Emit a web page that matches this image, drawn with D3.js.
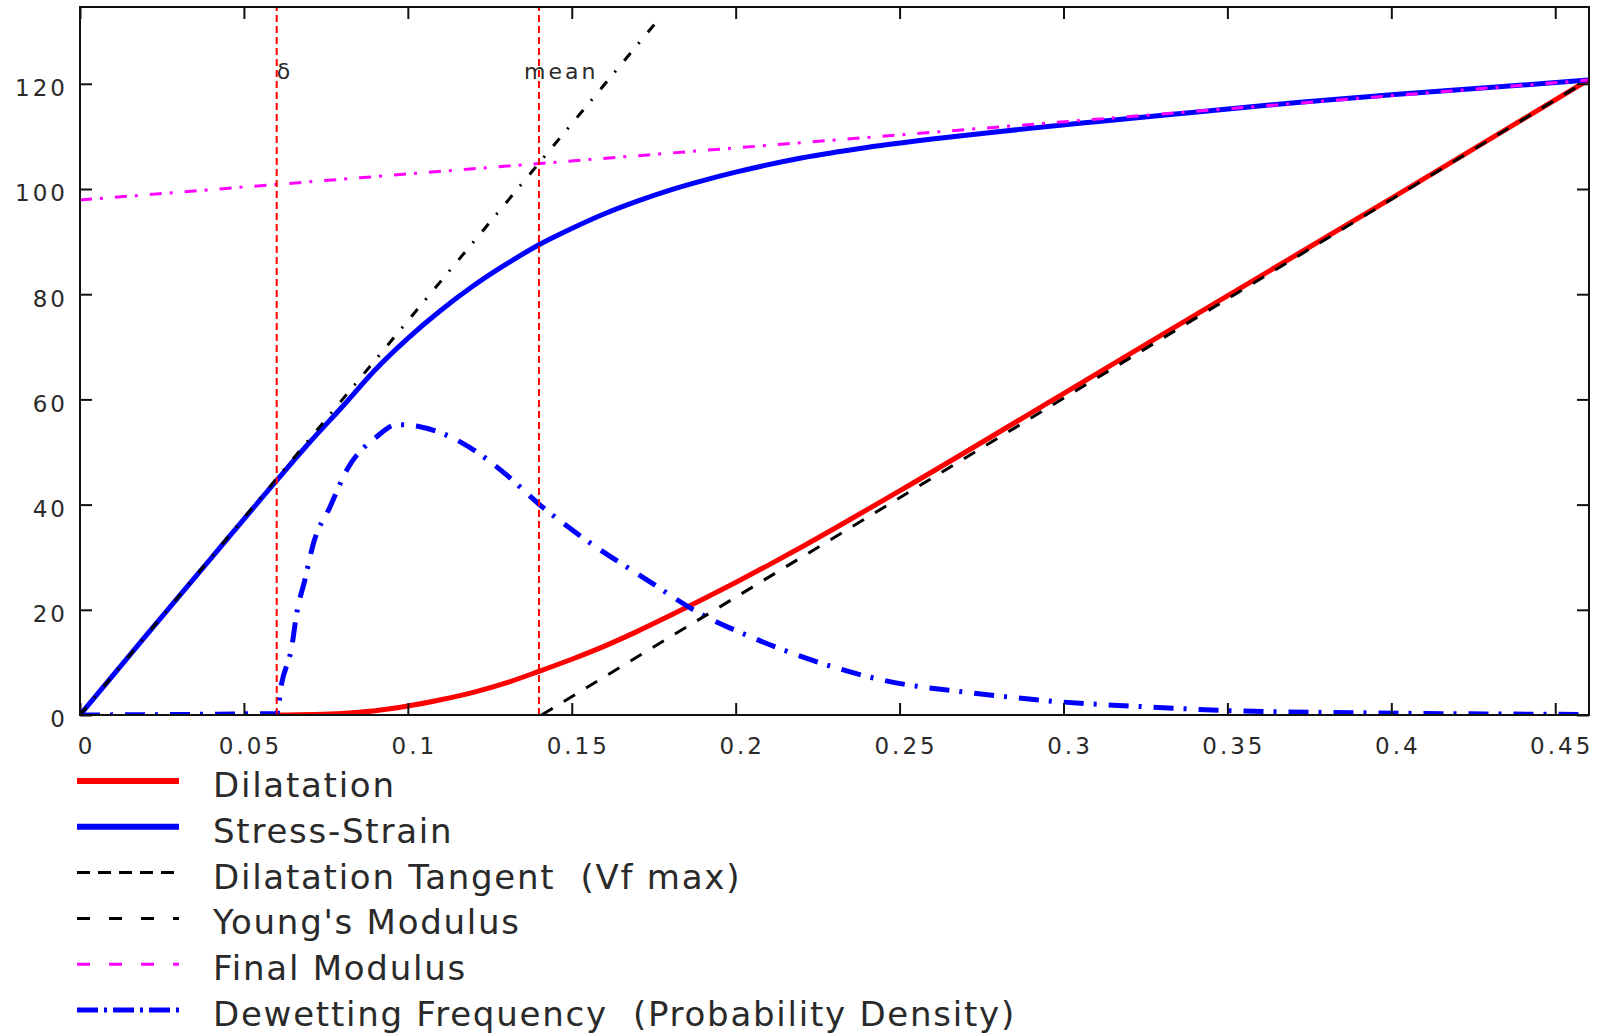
<!DOCTYPE html>
<html>
<head>
<meta charset="utf-8">
<script src="https://cdn.jsdelivr.net/npm/d3@7"></script>
<style>
  body { margin: 0; background: #fff; }
  text { font-family: "DejaVu Sans", sans-serif; fill: #2a2a2a; white-space: pre; }
</style>
</head>
<body>
<div id="graph"></div>
<script>
// stress-strain curve
const ssStrain = [0, 0.02, 0.04, 0.06, 0.07, 0.08, 0.09, 0.1, 0.11, 0.12, 0.13, 0.14, 0.15, 0.16, 0.17, 0.18, 0.19, 0.2, 0.22, 0.24, 0.26, 0.28, 0.31, 0.34, 0.3722, 0.40, 0.46];
const ssStress = [0, 15, 29.8, 44.6, 51.8, 58.6, 65.6, 71.6, 76.9, 81.6, 85.7, 89.4, 92.5, 95.3, 97.7, 99.8, 101.6, 103.2, 105.9, 107.9, 109.5, 110.9, 112.8, 114.6, 116.5, 117.9, 120.7];

// dilatation curve
const dilStrain = [0.06, 0.08, 0.09, 0.1, 0.11, 0.12, 0.13, 0.14, 0.15, 0.16, 0.17, 0.18, 0.19, 0.2, 0.21, 0.22, 0.23, 0.24, 0.25, 0.3, 0.35, 0.4, 0.46];
const dilValue = [0, 0.3, 0.8, 1.7, 2.9, 4.3, 6.1, 8.3, 10.6, 13.1, 15.9, 18.9, 22.0, 25.2, 28.5, 31.9, 35.4, 39.0, 42.6, 61.1, 79.7, 98.2, 120.7];

// dewetting frequency (probability density)
const dewStrain = [0, 0.06, 0.0615, 0.0646, 0.0661, 0.0686, 0.0712, 0.0763, 0.0814, 0.0905, 0.0966, 0.1037, 0.1169, 0.1302, 0.1398, 0.1536, 0.1729, 0.1891, 0.2044, 0.2197, 0.2451, 0.2735, 0.299, 0.3273, 0.3518, 0.3925, 0.46];
const dewValue = [0, 0.3, 6, 13, 19.3, 25.7, 32.6, 39.6, 46.6, 52.9, 55.2, 54.8, 51.6, 45.6, 40.2, 33.6, 25.7, 19.3, 14.9, 11.2, 6.6, 4.1, 2.5, 1.5, 0.8, 0.4, 0.1];

// straight reference lines (two end points each)
const tangentStrain = [0.1408, 0.46];
const tangentValue = [0, 120.7];
const youngStrain = [0, 0.1755];
const youngValue = [0, 131.5];
const finalStrain = [0, 0.46];
const finalValue = [97.9, 120.7];

// vertical markers
const markerNames = ["δ", "mean"];
const markerStrain = [0.06, 0.14];
const markerLabelY = 121;

const xTicks = [0, 0.05, 0.1, 0.15, 0.2, 0.25, 0.3, 0.35, 0.4, 0.45];
const yTicks = [0, 20, 40, 60, 80, 100, 120];

const W = 1606, H = 1034;
const plot = {left: 80, right: 1589, top: 7, bottom: 715};

const xScale = d3.scaleLinear().domain([0, 0.4603]).range([plot.left, plot.right]);
const yScale = d3.scaleLinear().domain([0, 134.6]).range([plot.bottom, plot.top]);

const svg = d3.select("#graph").append("svg")
  .attr("width", W)
  .attr("height", H);

svg.append("defs").append("clipPath").attr("id", "clip")
  .append("rect")
  .attr("x", plot.left).attr("y", plot.top)
  .attr("width", plot.right - plot.left).attr("height", plot.bottom - plot.top);

const zip = (xs, ys) => xs.map((x, i) => [x, ys[i]]);

const series = [
  {name: "Dilatation", pts: zip(dilStrain, dilValue), color: "#ff0000", width: 5, dash: null, legendDash: null, legendWidth: 6},
  {name: "Stress-Strain", pts: zip(ssStrain, ssStress), color: "#0000ff", width: 5, dash: null, legendDash: null, legendWidth: 6},
  {name: "Dilatation Tangent  (Vf max)", pts: zip(tangentStrain, tangentValue), color: "#000", width: 3, dash: "13,13", legendDash: "13,8", legendWidth: 3},
  {name: "Young's Modulus", pts: zip(youngStrain, youngValue), color: "#000", width: 3, dash: "10,12,2,13", legendDash: "13,19", legendWidth: 3},
  {name: "Final Modulus", pts: zip(finalStrain, finalValue), color: "#ff00ff", width: 3, dash: "12,8,3,12", legendDash: "13,19", legendWidth: 3},
  {name: "Dewetting Frequency  (Probability Density)", pts: zip(dewStrain, dewValue), color: "#0000ff", width: 5, dash: "20,10,3,12", legendDash: "21,6,3,6", legendWidth: 5}
];

const line = d3.line()
  .x(d => xScale(d[0]))
  .y(d => yScale(d[1]))
  .curve(d3.curveMonotoneX);

const lines = svg.append("g").attr("clip-path", "url(#clip)");

// draw order: solid curves first, dashed lines on top
[0, 5, 1, 2, 3, 4].forEach(i => {
  const s = series[i];
  lines.append("path")
    .datum(s.pts)
    .attr("d", line)
    .attr("fill", "none")
    .attr("stroke", s.color)
    .attr("stroke-width", s.width)
    .attr("stroke-dasharray", s.dash);
});

// red vertical markers
lines.selectAll(".marker")
  .data(markerStrain)
  .enter()
  .append("line")
  .attr("class", "marker")
  .attr("x1", d => xScale(d))
  .attr("x2", d => xScale(d))
  .attr("y1", yScale(0))
  .attr("y2", yScale(134.6))
  .attr("stroke", "#ff0000")
  .attr("stroke-width", 2)
  .attr("stroke-dasharray", "7,4");

svg.selectAll(".marker-label")
  .data(markerNames)
  .enter()
  .append("text")
  .attr("class", "marker-label")
  .attr("x", (d, i) => xScale(markerStrain[i]) + (i === 0 ? 0 : -15))
  .attr("y", yScale(markerLabelY))
  .style("font-size", "22px")
  .style("letter-spacing", (d, i) => i === 0 ? "0px" : "3px")
  .text(d => d);

// axes, ticks pointing inward on all four sides
const fmt = d => String(+d.toFixed(2));

const styleAxis = g => {
  g.select(".domain").remove();
  g.selectAll(".tick line").attr("stroke", "#111").attr("stroke-width", 2);
  g.selectAll("text").style("font-size", "23px").style("letter-spacing", "3px").attr("fill", "#333");
};

svg.append("g")
  .attr("transform", `translate(0,${plot.bottom})`)
  .call(d3.axisBottom(xScale).tickValues(xTicks).tickFormat(fmt).tickSize(-12).tickPadding(23))
  .call(styleAxis)
  .call(g => g.selectAll("text").attr("dx", 6));

svg.append("g")
  .attr("transform", `translate(0,${plot.top})`)
  .call(d3.axisTop(xScale).tickValues(xTicks).tickFormat("").tickSize(-12))
  .call(styleAxis);

svg.append("g")
  .attr("transform", `translate(${plot.left},0)`)
  .call(d3.axisLeft(yScale).tickValues(yTicks).tickSize(-12).tickPadding(12))
  .call(styleAxis)
  .call(g => g.selectAll("text").attr("dy", "0.52em"));

svg.append("g")
  .attr("transform", `translate(${plot.right},0)`)
  .call(d3.axisRight(yScale).tickValues(yTicks).tickFormat("").tickSize(-12))
  .call(styleAxis);

svg.append("rect")
  .attr("x", plot.left).attr("y", plot.top)
  .attr("width", plot.right - plot.left).attr("height", plot.bottom - plot.top)
  .attr("fill", "none")
  .attr("stroke", "#111")
  .attr("stroke-width", 2);

// legend below the plot
const legend = svg.append("g").selectAll("g")
  .data(series)
  .enter()
  .append("g")
  .attr("transform", (d, i) => `translate(0,${785 + i * 45.8})`);

legend.append("line")
  .attr("x1", 77).attr("x2", 179)
  .attr("y1", -4).attr("y2", -4)
  .attr("stroke", d => d.color)
  .attr("stroke-width", d => d.legendWidth)
  .attr("stroke-dasharray", d => d.legendDash);

legend.append("text")
  .attr("x", 213)
  .attr("y", 12)
  .style("font-size", "34px")
  .style("letter-spacing", "1.75px")
  .text(d => d.name);
</script>
</body>
</html>
